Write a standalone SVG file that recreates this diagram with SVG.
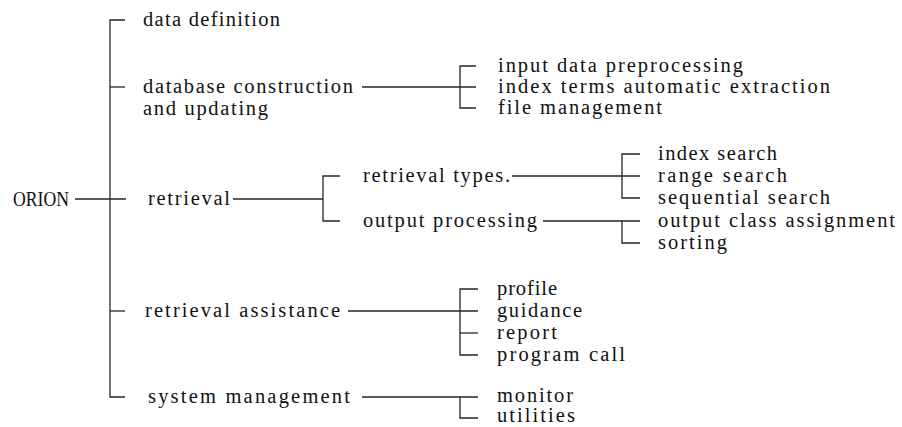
<svg xmlns="http://www.w3.org/2000/svg" width="902" height="427" viewBox="0 0 902 427">
<style>
text{font-family:"Liberation Serif","Times New Roman",serif;font-size:20.5px;fill:#111;}
.c line,.c path{stroke:#262626;stroke-width:1.3;fill:none;}
</style>
<rect width="902" height="427" fill="#fff"/>
<g class="c" id="connectors">
<path d="M125 20H110V397H125"/>
<line x1="110" y1="87" x2="125" y2="87"/>
<line x1="75" y1="199" x2="126" y2="199"/>
<line x1="110" y1="311" x2="125" y2="311"/>
<line x1="362" y1="87" x2="476" y2="87"/>
<path d="M476 66H460V108H476"/>
<line x1="233" y1="199" x2="323" y2="199"/>
<path d="M340 176H323V221H340"/>
<line x1="512" y1="176" x2="640" y2="176"/>
<path d="M640 154H622V198H640"/>
<line x1="543" y1="221" x2="640" y2="221"/>
<path d="M622 221V243H640"/>
<line x1="348" y1="311" x2="478" y2="311"/>
<path d="M478 289H460V355H478"/>
<line x1="460" y1="333" x2="478" y2="333"/>
<line x1="362" y1="397" x2="478" y2="397"/>
<path d="M460 397V418H478"/>
</g>
<g id="orion"><text x="13" y="206" textLength="56" lengthAdjust="spacingAndGlyphs">ORION</text></g>
<g id="data-definition"><text x="143" y="26" textLength="137">data definition</text></g>
<g id="database-construction"><text x="143" y="93" textLength="210">database construction</text><text x="143" y="115" textLength="125">and updating</text></g>
<g id="input-data"><text x="498" y="72" textLength="245">input data preprocessing</text></g>
<g id="index-terms"><text x="498" y="93" textLength="332">index terms automatic extraction</text></g>
<g id="file-management"><text x="498" y="114" textLength="164">file management</text></g>
<g id="retrieval"><text x="148" y="205" textLength="82">retrieval</text></g>
<g id="retrieval-types"><text x="363" y="182" textLength="147">retrieval types.</text></g>
<g id="index-search"><text x="658" y="160" textLength="119">index search</text></g>
<g id="range-search"><text x="658" y="182" textLength="129">range search</text></g>
<g id="sequential-search"><text x="658" y="204" textLength="172">sequential search</text></g>
<g id="output-processing"><text x="363" y="227" textLength="174">output processing</text></g>
<g id="output-class"><text x="658" y="227" textLength="237">output class assignment</text></g>
<g id="sorting"><text x="658" y="249" textLength="69">sorting</text></g>
<g id="retrieval-assistance"><text x="145" y="317" textLength="195">retrieval assistance</text></g>
<g id="profile"><text x="497" y="295" textLength="60">profile</text></g>
<g id="guidance"><text x="497" y="317" textLength="85">guidance</text></g>
<g id="report"><text x="497" y="339" textLength="60">report</text></g>
<g id="program-call"><text x="497" y="361" textLength="128">program call</text></g>
<g id="system-management"><text x="148" y="403" textLength="202">system management</text></g>
<g id="monitor"><text x="497" y="402" textLength="76">monitor</text></g>
<g id="utilities"><text x="497" y="422" textLength="78">utilities</text></g>
</svg>
